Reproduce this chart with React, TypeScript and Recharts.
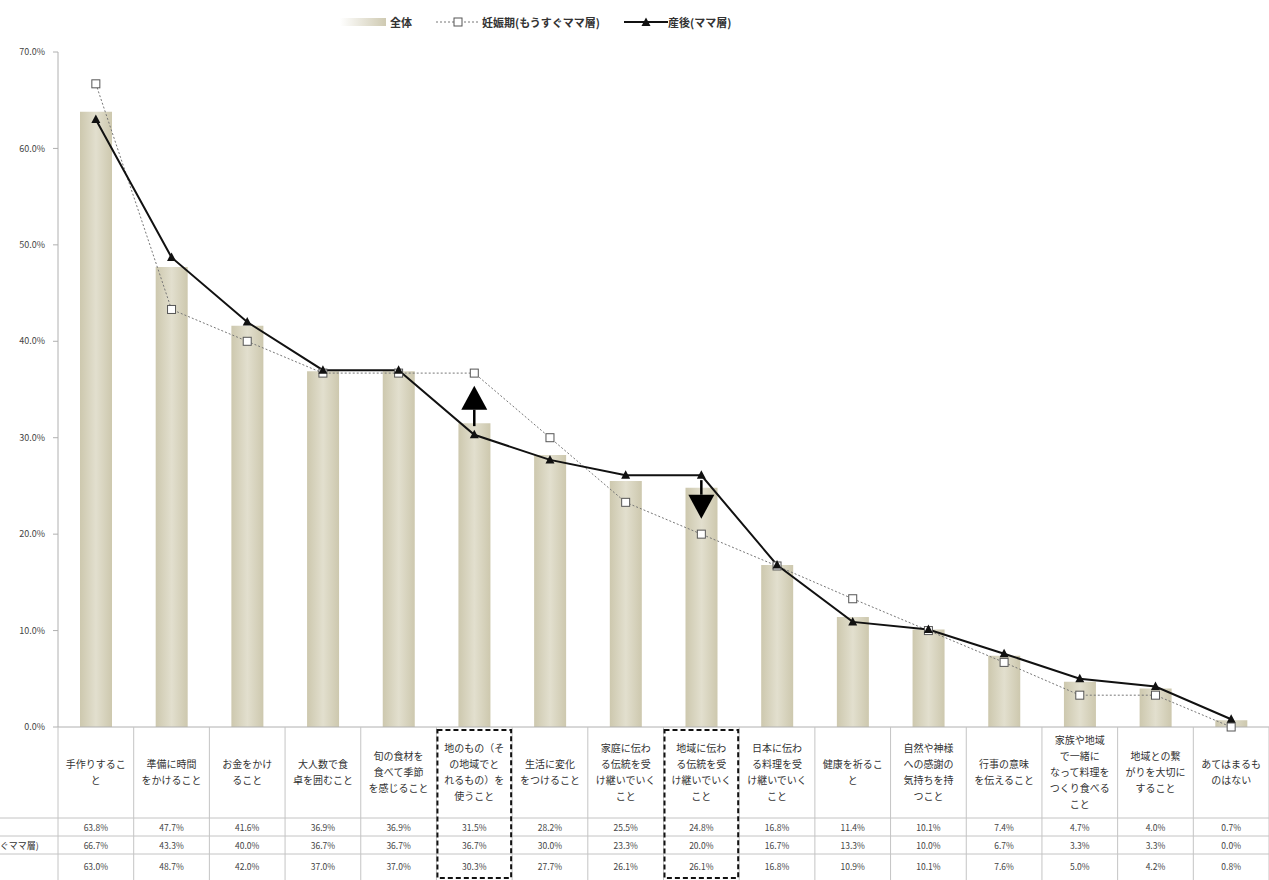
import React from "react"
import {
  ComposedChart,
  Bar,
  Line,
  XAxis,
  YAxis,
  ReferenceLine,
} from "recharts"

const W = 1269
const H = 880
const LEFT = 58
const TOP = 52
const AXIS_H = 153
const FONT = '"Noto Sans CJK JP", "Noto Sans", sans-serif'

const categories = [
  "手作りすること",
  "準備に時間をかけること",
  "お金をかけること",
  "大人数で食卓を囲むこと",
  "旬の食材を食べて季節を感じること",
  "地のもの（その地域でとれるもの）を使うこと",
  "生活に変化をつけること",
  "家庭に伝わる伝統を受け継いでいくこと",
  "地域に伝わる伝統を受け継いでいくこと",
  "日本に伝わる料理を受け継いでいくこと",
  "健康を祈ること",
  "自然や神様への感謝の気持ちを持つこと",
  "行事の意味を伝えること",
  "家族や地域で一緒になって料理をつくり食べること",
  "地域との繋がりを大切にすること",
  "あてはまるものはない",
]

// wrapped tick labels, as in the original table header
const categoryLines = [
  ["手作りするこ", "と"],
  ["準備に時間", "をかけること"],
  ["お金をかけ", "ること"],
  ["大人数で食", "卓を囲むこと"],
  ["旬の食材を", "食べて季節", "を感じること"],
  ["地のもの（そ", "の地域でと", "れるもの）を", "使うこと"],
  ["生活に変化", "をつけること"],
  ["家庭に伝わ", "る伝統を受", "け継いでいく", "こと"],
  ["地域に伝わ", "る伝統を受", "け継いでいく", "こと"],
  ["日本に伝わ", "る料理を受", "け継いでいく", "こと"],
  ["健康を祈るこ", "と"],
  ["自然や神様", "への感謝の", "気持ちを持", "つこと"],
  ["行事の意味", "を伝えること"],
  ["家族や地域", "で一緒に", "なって料理を", "つくり食べる", "こと"],
  ["地域との繋", "がりを大切に", "すること"],
  ["あてはまるも", "のはない"],
]

const overall = [63.8, 47.7, 41.6, 36.9, 36.9, 31.5, 28.2, 25.5, 24.8, 16.8, 11.4, 10.1, 7.4, 4.7, 4.0, 0.7]
const pregnancy = [66.7, 43.3, 40.0, 36.7, 36.7, 36.7, 30.0, 23.3, 20.0, 16.7, 13.3, 10.0, 6.7, 3.3, 3.3, 0.0]
const postpartum = [63.0, 48.7, 42.0, 37.0, 37.0, 30.3, 27.7, 26.1, 26.1, 16.8, 10.9, 10.1, 7.6, 5.0, 4.2, 0.8]

const seriesNames = ["全体", "妊娠期(もうすぐママ層)", "産後(ママ層)"]
const yTicks = [0, 10, 20, 30, 40, 50, 60, 70]

// annotation arrows (category index, from value, to value)
const arrows = [
  { index: 5, from: 31.2, to: 35.4 },
  { index: 8, from: 25.6, to: 21.6 },
]
const highlighted = [5, 8]

const data = categories.map((name, i) => ({
  name,
  overall: overall[i],
  pregnancy: pregnancy[i],
  postpartum: postpartum[i],
}))

const COL_W = (W - LEFT) / categories.length
const rows = [overall, pregnancy, postpartum]

function CategoryTick(props: any) {
  const { x, y, payload, index } = props
  const lines = categoryLines[index] ?? []
  const left = x - COL_W / 2
  const right = x + COL_W / 2
  return (
    <g>
      {index === 0 && (
        <g>
          {[91, 109, 127].map((dy) => (
            <line key={dy} x1={0} x2={W} y1={y + dy} y2={y + dy} stroke="#c4c4c4" />
          ))}
          <line x1={left} x2={left} y1={y} y2={H} stroke="#c4c4c4" />
          {seriesNames.map((s, r) => (
            <text
              key={s}
              x={-57}
              y={y + [100, 118, 139][r]}
              fontSize={9}
              fill="#333"
              dominantBaseline="central"
              fontFamily={FONT}
            >
              {s}
            </text>
          ))}
        </g>
      )}
      <line x1={right} x2={right} y1={y} y2={H} stroke="#c4c4c4" />
      {lines.map((t: string, i: number) => (
        <text
          key={i}
          x={x}
          y={y + 44 + (i - (lines.length - 1) / 2) * 16}
          textAnchor="middle"
          dominantBaseline="central"
          fontSize={10}
          fill="#333"
          fontFamily={FONT}
        >
          {t}
        </text>
      ))}
      {rows.map((vals, r) => (
        <text
          key={r}
          x={x}
          y={y + [100, 118, 139][r]}
          textAnchor="middle"
          dominantBaseline="central"
          fontSize={8.5}
          fill="#444"
          fontFamily={FONT}
        >
          {vals[index].toFixed(1)}%
        </text>
      ))}
      {highlighted.includes(index) && (
        <rect
          x={left + 1}
          y={y + 3}
          width={COL_W - 2}
          height={H - y - 5}
          fill="none"
          stroke="#111"
          strokeWidth={2}
          strokeDasharray="5 3"
        />
      )}
      <title>{payload.value}</title>
    </g>
  )
}

function SquareDot(props: any) {
  const { cx, cy } = props
  if (cx == null || cy == null) return null
  return <rect x={cx - 4} y={cy - 4} width={8} height={8} fill="#fff" stroke="#555" strokeWidth={1} />
}

function TriangleDot(props: any) {
  const { cx, cy } = props
  if (cx == null || cy == null) return null
  return <path d={`M${cx},${cy - 5} L${cx + 4.5},${cy + 3.5} L${cx - 4.5},${cy + 3.5} Z`} fill="#111" />
}

function ArrowShape(props: any) {
  const { x1, y1, x2, y2 } = props
  if (x1 == null || y1 == null) return null
  const dir = y2 < y1 ? -1 : 1
  const head = 24
  const base = y2 - dir * head
  return (
    <g>
      <line x1={x1} x2={x1} y1={y1} y2={base} stroke="#000" strokeWidth={2.5} />
      <path d={`M${x2},${y2} L${x2 + 13},${base} L${x2 - 13},${base} Z`} fill="#000" />
    </g>
  )
}

function LegendBar() {
  return (
    <div
      style={{
        position: "absolute",
        top: 14,
        left: 340,
        display: "flex",
        alignItems: "center",
        fontFamily: FONT,
        fontSize: 11,
        fontWeight: 700,
        color: "#333",
        whiteSpace: "nowrap",
      }}
    >
      <svg width={46} height={12}>
        <defs>
          <linearGradient id="legGrad" x1="0" y1="0" x2="1" y2="0">
            <stop offset="0%" stopColor="#ffffff" />
            <stop offset="100%" stopColor="#cfcab2" />
          </linearGradient>
        </defs>
        <rect x={0} y={2} width={46} height={8} fill="url(#legGrad)" />
      </svg>
      <span style={{ marginLeft: 4 }}>{seriesNames[0]}</span>
      <svg width={48} height={12} style={{ marginLeft: 22 }}>
        <line x1={2} x2={46} y1={6} y2={6} stroke="#777" strokeDasharray="2 2" />
        <rect x={20} y={2} width={8} height={8} fill="#fff" stroke="#555" />
      </svg>
      <span>{seriesNames[1]}</span>
      <svg width={44} height={12} style={{ marginLeft: 24 }}>
        <line x1={0} x2={44} y1={6} y2={6} stroke="#111" strokeWidth={2} />
        <path d="M22,1.5 L26.5,10 L17.5,10 Z" fill="#111" />
      </svg>
      <span>{seriesNames[2]}</span>
    </div>
  )
}

export default function App() {
  return (
    <div style={{ position: "relative", width: W, height: H, background: "#fff", overflow: "hidden" }}>
      <style>{"body{margin:0}"}</style>
      <LegendBar />
      <ComposedChart
        width={W}
        height={H}
        data={data}
        margin={{ top: TOP, right: 0, bottom: 0, left: 0 }}
      >
        <defs>
          <linearGradient id="barGrad" x1="0" y1="0" x2="1" y2="0">
            <stop offset="0%" stopColor="#cdc8ae" />
            <stop offset="50%" stopColor="#e2dfce" />
            <stop offset="100%" stopColor="#cdc8ae" />
          </linearGradient>
        </defs>
        <XAxis
          dataKey="name"
          height={AXIS_H}
          interval={0}
          tickSize={0}
          tickMargin={0}
          tickLine={false}
          axisLine={{ stroke: "#b0b0b0" }}
          tick={<CategoryTick />}
        />
        <YAxis
          width={LEFT}
          domain={[0, 70]}
          ticks={yTicks}
          tickFormatter={(v: number) => `${v.toFixed(1)}%`}
          tick={{ fontSize: 9, fill: "#444", fontFamily: FONT }}
          tickSize={5}
          tickMargin={8}
          axisLine={{ stroke: "#b0b0b0" }}
          tickLine={{ stroke: "#b0b0b0" }}
        />
        <Bar dataKey="overall" name={seriesNames[0]} barSize={32} fill="url(#barGrad)" isAnimationActive={false} />
        <Line
          dataKey="pregnancy"
          name={seriesNames[1]}
          type="linear"
          stroke="#777"
          strokeWidth={1}
          strokeDasharray="2 2"
          dot={<SquareDot />}
          activeDot={false}
          isAnimationActive={false}
        />
        <Line
          dataKey="postpartum"
          name={seriesNames[2]}
          type="linear"
          stroke="#111"
          strokeWidth={2}
          dot={<TriangleDot />}
          activeDot={false}
          isAnimationActive={false}
        />
        {arrows.map((a) => (
          <ReferenceLine
            key={a.index}
            segment={[
              { x: categories[a.index], y: a.from },
              { x: categories[a.index], y: a.to },
            ]}
            shape={<ArrowShape />}
            ifOverflow="visible"
          />
        ))}
      </ComposedChart>
    </div>
  )
}
